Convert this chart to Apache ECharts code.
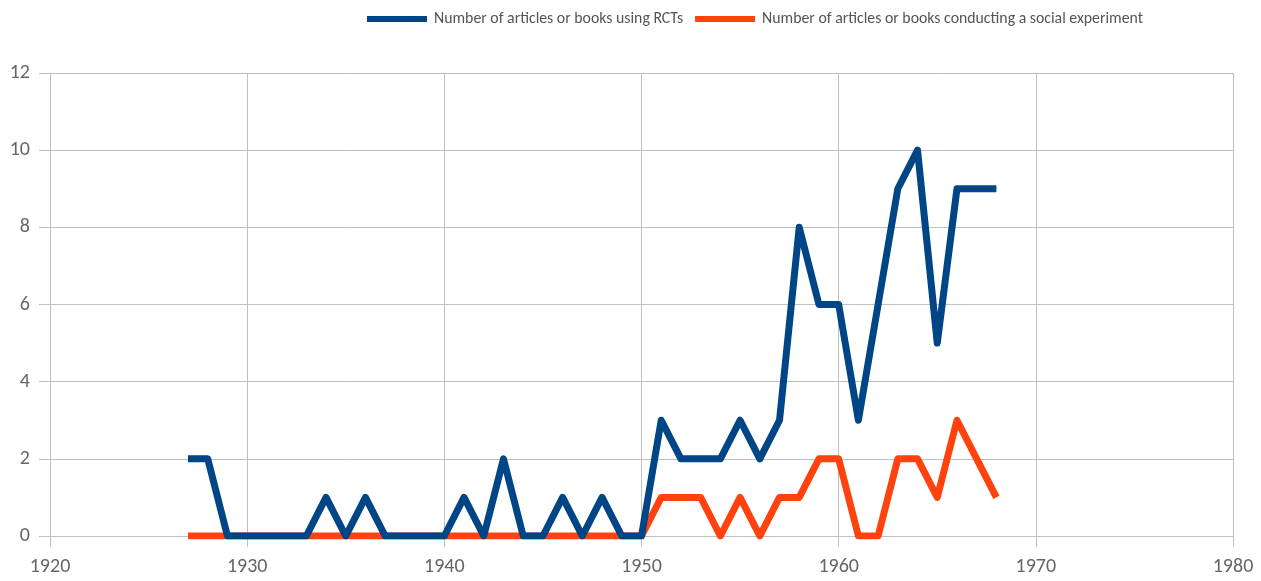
<!DOCTYPE html>
<html><head><meta charset="utf-8">
<script src="https://cdn.jsdelivr.net/npm/echarts@6/dist/echarts.min.js"></script>
<style>html,body{margin:0;padding:0;background:#fff}#c{width:1261px;height:581px}</style>
</head><body><div id="c"></div>
<script>
const years = [1927,1928,1929,1930,1931,1932,1933,1934,1935,1936,1937,1938,1939,1940,1941,1942,1943,1944,1945,1946,1947,1948,1949,1950,1951,1952,1953,1954,1955,1956,1957,1958,1959,1960,1961,1962,1963,1964,1965,1966,1967,1968];
const rcts = [2,2,0,0,0,0,0,1,0,1,0,0,0,0,1,0,2,0,0,1,0,1,0,0,3,2,2,2,3,2,3,8,6,6,3,6,9,10,5,9,9,9];
const social = [0,0,0,0,0,0,0,0,0,0,0,0,0,0,0,0,0,0,0,0,0,0,0,0,1,1,1,0,1,0,1,1,2,2,0,0,2,2,1,3,2,1];
const seriesNames = ['Number of articles or books using RCTs','Number of articles or books conducting a social experiment'];

const chart = echarts.init(document.getElementById('c'));
const font = 'Carlito, Lato, "Open Sans", sans-serif';
const pair = arr => years.map((y,i)=>[y,arr[i]]);
const gridColor = '#c0c0c0';
chart.setOption({
  animation:false,
  grid:{left:50,right:28,top:73,bottom:45,containLabel:false},
  legend:{
    top:6,left:362,itemWidth:60,itemHeight:6,itemGap:12,
    icon:'rect',
    textStyle:{color:'#555',fontSize:15.8,fontFamily:font,padding:[0,0,0,2]},
    data:seriesNames
  },
  xAxis:{
    type:'value',min:1920,max:1980,interval:10,
    axisLine:{show:true,onZero:false,lineStyle:{color:gridColor,width:1}},
    axisTick:{show:true,length:11,lineStyle:{color:gridColor}},
    axisLabel:{color:'#666',fontSize:20,fontFamily:font,margin:21,formatter:v=>String(v)},
    splitLine:{show:true,lineStyle:{color:gridColor,width:1}}
  },
  yAxis:{
    type:'value',min:0,max:12,interval:2,
    axisLine:{show:true,lineStyle:{color:gridColor,width:1}},
    axisTick:{show:true,length:11,lineStyle:{color:gridColor}},
    axisLabel:{color:'#666',fontSize:20,fontFamily:font,margin:20},
    splitLine:{show:true,lineStyle:{color:gridColor,width:1}}
  },
  series:[
    {name:seriesNames[1],type:'line',data:pair(social),showSymbol:false,z:2,
     itemStyle:{color:'#ff420e'},lineStyle:{color:'#ff420e',width:7,cap:'butt',join:'round'}},
    {name:seriesNames[0],type:'line',data:pair(rcts),showSymbol:false,z:3,
     itemStyle:{color:'#004586'},lineStyle:{color:'#004586',width:7,cap:'butt',join:'round'}}
  ]
});
</script></body></html>
